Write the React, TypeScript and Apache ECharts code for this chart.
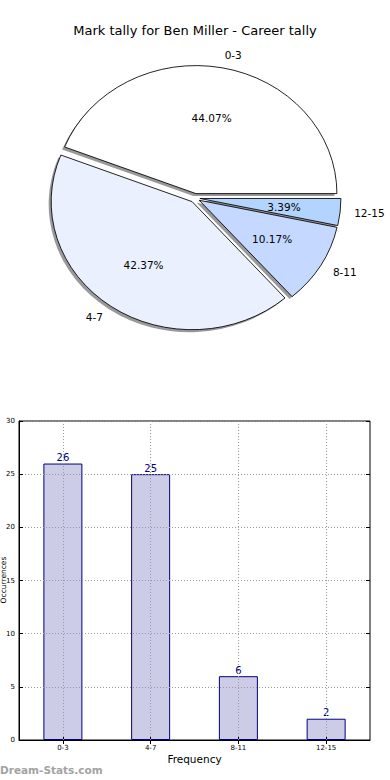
import React, { useEffect, useRef } from "react";
import * as echarts from "echarts";

const chartTitle = "Mark tally for Ben Miller - Career tally";
const categories = ["0-3", "4-7", "8-11", "12-15"];
const tallies = [26, 25, 6, 2];
const sliceColors = ["#ffffff", "#eaf0fe", "#c5d8ff", "#b3d4ff"];
const yMin = 0;
const yMax = 30;
const yStep = 5;
const xAxisName = "Frequency";
const yAxisName = "Occurrences";
const watermark = "Dream-Stats.com";

const FONT = "DejaVu Sans";

export default function App() {
  const ref = useRef<HTMLDivElement>(null);
  useEffect(() => {
    if (!ref.current) return;
    const chart = echarts.init(ref.current, undefined, { renderer: "svg" });
    const total = tallies.reduce((a, b) => a + b, 0);
    const cx = 195;
    const cy = 198;
    const rx = 141;
    const ry = 128;
    const explode = 0.035;

    const renderItem = (params: any, api: any) => {
      const i = params.dataIndex;
      const v = api.value(1);
      let start = 0;
      for (let j = 0; j < i; j++) start += tallies[j];
      const a1 = (start / total) * Math.PI * 2;
      const a2 = ((start + v) / total) * Math.PI * 2;
      const mid = (a1 + a2) / 2;
      const ox = cx + explode * rx * Math.cos(mid);
      const oy = cy - explode * ry * Math.sin(mid);
      const wedge = (x: number, y: number, style: any, z2: number) => ({
        type: "group",
        x,
        y,
        scaleY: ry / rx,
        children: [
          {
            type: "sector",
            z2,
            shape: { cx: 0, cy: 0, r: rx, r0: 0, startAngle: -a2, endAngle: -a1, clockwise: true },
            style,
          },
        ],
      });
      const pct = ((v / total) * 100).toFixed(2) + "%";
      return {
        type: "group",
        children: [
          wedge(ox - 2.5, oy + 2.5, { fill: "rgba(70,70,70,0.55)", stroke: "none" }, 1),
          wedge(ox, oy, { fill: sliceColors[i], stroke: "#000", lineWidth: 0.9, strokeNoScale: true }, 10),
          {
            type: "text",
            z2: 30,
            x: ox + 1.1 * rx * Math.cos(mid),
            y: oy - 1.1 * ry * Math.sin(mid),
            style: {
              text: categories[i],
              fill: "#000",
              fontSize: 10.5,
              fontFamily: FONT,
              textAlign: Math.cos(mid) > 0 ? "left" : "right",
              textVerticalAlign: "middle",
            },
          },
          {
            type: "text",
            z2: 30,
            x: ox + 0.6 * rx * Math.cos(mid),
            y: oy - 0.6 * ry * Math.sin(mid),
            style: {
              text: pct,
              fill: "#000",
              fontSize: 10.5,
              fontFamily: FONT,
              textAlign: "center",
              textVerticalAlign: "middle",
            },
          },
        ],
      };
    };

    const dotted = { type: [1, 2] as any, color: "#9a9a9a", width: 1 };

    chart.setOption({
      animation: false,
      backgroundColor: "#fff",
      title: {
        text: chartTitle,
        left: "center",
        top: 19,
        textStyle: { fontFamily: FONT, fontSize: 13, fontWeight: "normal", color: "#000" },
      },
      grid: {
        left: 19,
        right: 20,
        top: 421,
        bottom: 40,
        show: true,
        borderColor: "#000",
        borderWidth: 1,
        backgroundColor: "transparent",
      },
      xAxis: [
        {
          type: "category",
          data: categories,
          position: "bottom",
          z: 3,
          axisLine: { show: true, lineStyle: { color: "#000", width: 1 } },
          axisTick: { show: true, inside: true, alignWithLabel: true, length: 4, lineStyle: { color: "#000" } },
          axisLabel: { fontSize: 7, color: "#000", fontFamily: FONT, margin: 4 },
          splitLine: { show: false },
          name: xAxisName,
          nameLocation: "middle",
          nameGap: 13,
          nameTextStyle: { fontSize: 10.5, color: "#000", fontFamily: FONT },
        },
        {
          type: "category",
          data: categories,
          position: "top",
          z: 3,
          axisLine: { show: false },
          axisTick: { show: true, inside: true, alignWithLabel: true, length: 4, lineStyle: { color: "#000" } },
          axisLabel: { show: false },
          splitLine: { show: false },
        },
      ],
      yAxis: [
        {
          type: "value",
          min: yMin,
          max: yMax,
          interval: yStep,
          position: "left",
          z: 3,
          axisLine: { show: true, lineStyle: { color: "#000", width: 1 } },
          axisTick: { show: true, inside: true, length: 4, lineStyle: { color: "#000" } },
          axisLabel: { fontSize: 7, color: "#000", fontFamily: FONT, margin: 4 },
          splitLine: { show: true, lineStyle: dotted },
        },
        {
          type: "value",
          min: yMin,
          max: yMax,
          interval: yStep,
          position: "right",
          z: 3,
          axisLine: { show: false },
          axisTick: { show: true, inside: true, length: 4, lineStyle: { color: "#000" } },
          axisLabel: { show: false },
          splitLine: { show: false },
        },
      ],
      series: [
        {
          type: "custom",
          coordinateSystem: "none",
          data: tallies.map((v, i) => [i, v]),
          renderItem,
          silent: true,
        },
        {
          type: "bar",
          xAxisIndex: 0,
          yAxisIndex: 0,
          data: tallies,
          barWidth: 39,
          itemStyle: { color: "#ccccE6", borderColor: "#000080", borderWidth: 1 },
          label: {
            show: true,
            position: "top",
            distance: 1,
            color: "#000080",
            fontSize: 10,
            fontFamily: FONT,
          },
          markLine: {
            silent: true,
            symbol: ["none", "none"],
            label: { show: false },
            lineStyle: dotted,
            data: categories.map((c) => ({ xAxis: c })),
          },
        },
      ],
      graphic: [
        {
          type: "text",
          x: 3.5,
          y: 580,
          rotation: Math.PI / 2,
          style: {
            text: yAxisName,
            fill: "#000",
            fontSize: 7.5,
            fontFamily: FONT,
            textAlign: "center",
            textVerticalAlign: "middle",
          },
        },
        {
          type: "text",
          left: 0,
          top: 764,
          style: {
            text: watermark,
            fill: "#a3a3a3",
            fontSize: 10.5,
            fontWeight: "bold",
            fontFamily: FONT,
          },
        },
      ],
    });
    return () => chart.dispose();
  }, []);
  return (
    <div
      ref={ref}
      style={{ position: "absolute", left: 0, top: 0, width: 390, height: 780 }}
    />
  );
}
